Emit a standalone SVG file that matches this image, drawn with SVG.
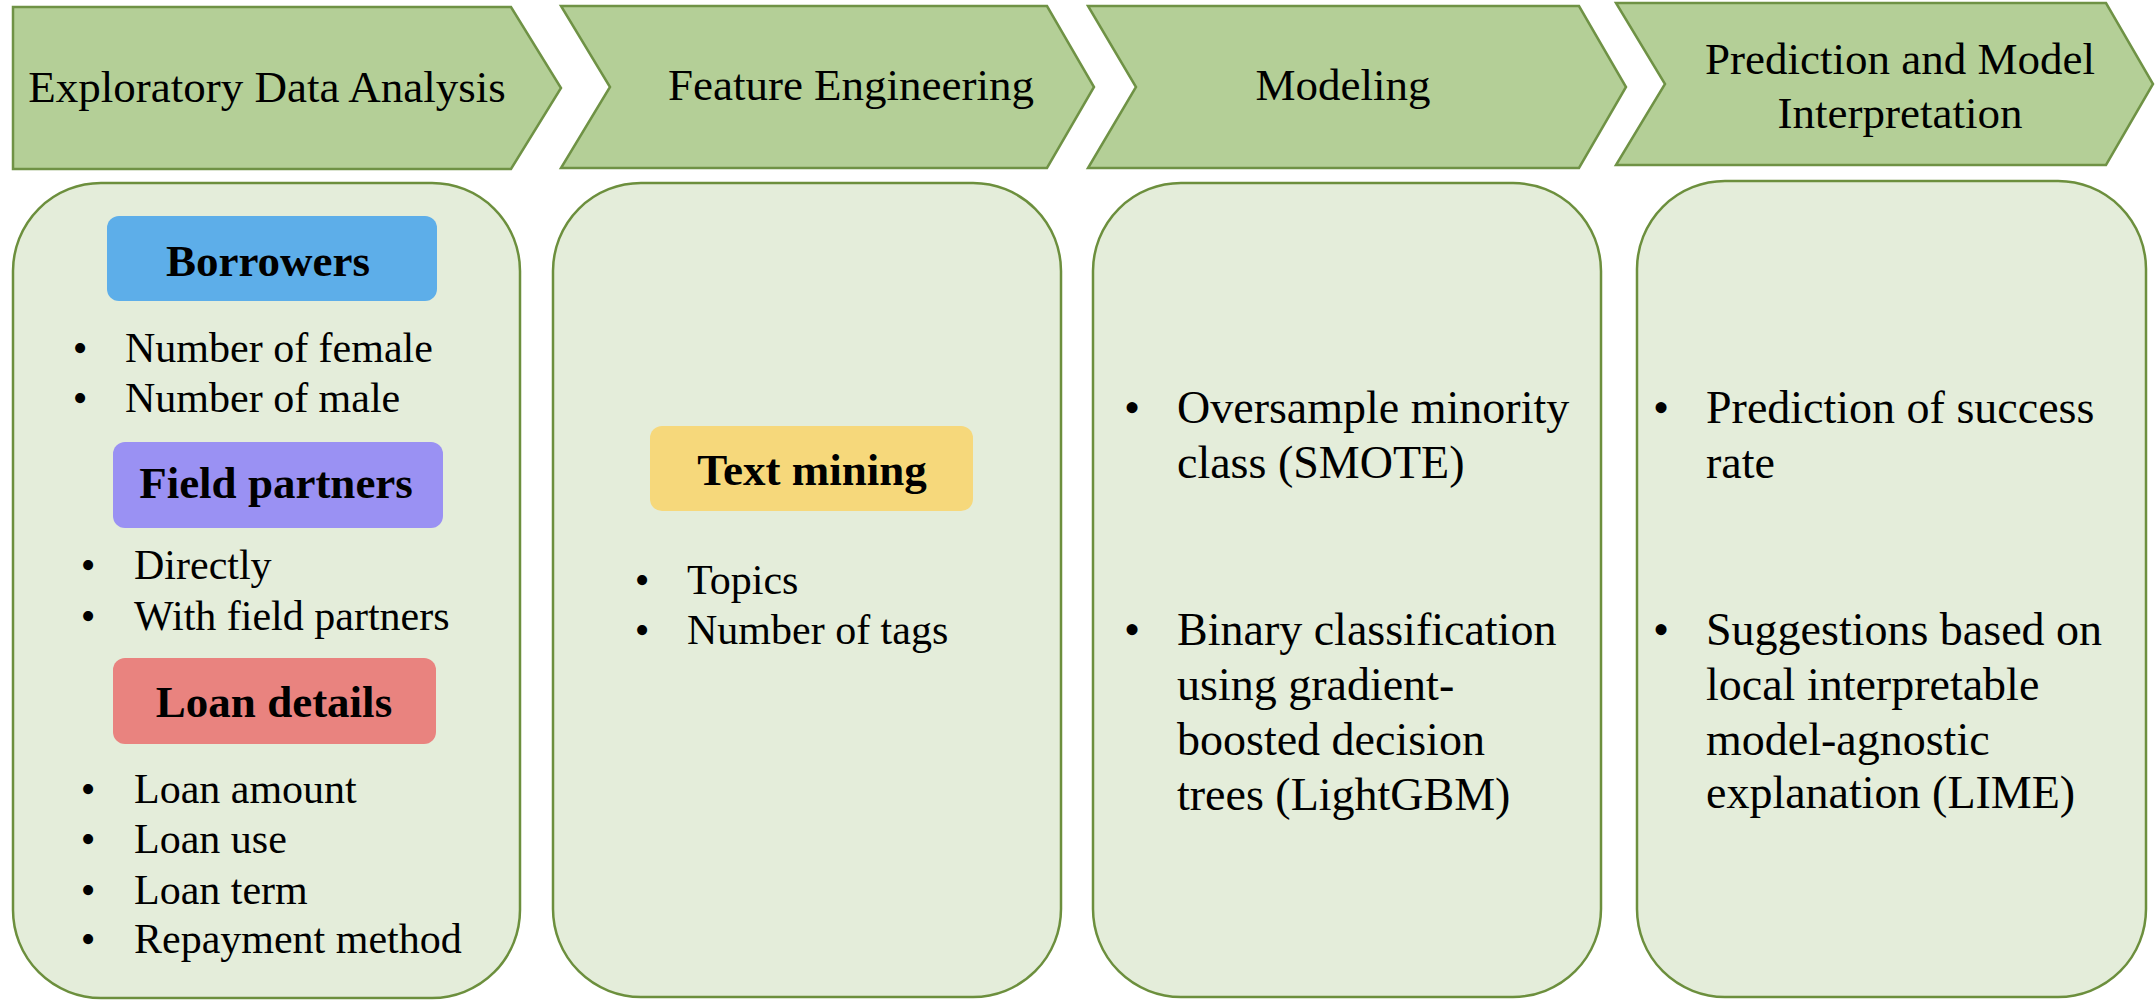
<svg xmlns="http://www.w3.org/2000/svg" width="2156" height="1006" viewBox="0 0 2156 1006">
  <style>
    .chev { fill: #B4CF97; stroke: #6F9245; stroke-width: 2.5; stroke-linejoin: miter; }
    .panel { fill: #E4EDDA; stroke: #6C8F3D; stroke-width: 2.5; }
    .title { font-family: "Liberation Serif", "Times New Roman", serif; font-size: 45px; fill: #000; text-anchor: middle; }
    .label { font-family: "Liberation Serif", "Times New Roman", serif; font-size: 45px; font-weight: bold; fill: #000; text-anchor: middle; }
    .item { font-family: "Liberation Serif", "Times New Roman", serif; font-size: 42px; fill: #000; }
    .item-lg { font-family: "Liberation Serif", "Times New Roman", serif; font-size: 46px; fill: #000; }
    .dot { text-anchor: middle; }
  </style>

  <rect width="2156" height="1006" fill="#FFFFFF"/>

  <!-- Process stages (chevron headers) -->
  <g id="stage-eda">
    <path class="chev" d="M13,7 L511,7 L561,88 L511,169 L13,169 Z"/>
    <text class="title" x="267" y="102">Exploratory Data Analysis</text>
  </g>
  <g id="stage-feature">
    <path class="chev" d="M561,6 L1047,6 L1094,87 L1047,168 L561,168 L610,87 Z"/>
    <text class="title" x="851" y="100">Feature Engineering</text>
  </g>
  <g id="stage-modeling">
    <path class="chev" d="M1088,6 L1579,6 L1626,87 L1579,168 L1088,168 L1136,87 Z"/>
    <text class="title" x="1343" y="100">Modeling</text>
  </g>
  <g id="stage-prediction">
    <path class="chev" d="M1616,3 L2106,3 L2153,84 L2106,165 L1616,165 L1665,84 Z"/>
    <text class="title" x="1900" y="74">Prediction and Model</text>
    <text class="title" x="1900" y="128">Interpretation</text>
  </g>

  <!-- Stage detail panels -->
  <g id="panel-eda">
    <rect class="panel" x="13" y="183" width="507" height="815" rx="88" ry="88"/>
    <rect x="107" y="216" width="330" height="85" rx="12" fill="#5DAEE9"/>
    <text class="label" x="268" y="276">Borrowers</text>
    <text class="item dot" x="80" y="362">•</text>
    <text class="item" x="125" y="362">Number of female</text>
    <text class="item dot" x="80" y="412">•</text>
    <text class="item" x="125" y="412">Number of male</text>

    <rect x="113" y="442" width="330" height="86" rx="12" fill="#9A91F3"/>
    <text class="label" x="276" y="498">Field partners</text>
    <text class="item dot" x="88" y="579">•</text>
    <text class="item" x="134" y="579">Directly</text>
    <text class="item dot" x="88" y="630">•</text>
    <text class="item" x="134" y="630">With field partners</text>

    <rect x="113" y="658" width="323" height="86" rx="12" fill="#E9837F"/>
    <text class="label" x="274" y="717">Loan details</text>
    <text class="item dot" x="88" y="803">•</text>
    <text class="item" x="134" y="803">Loan amount</text>
    <text class="item dot" x="88" y="853">•</text>
    <text class="item" x="134" y="853">Loan use</text>
    <text class="item dot" x="88" y="904">•</text>
    <text class="item" x="134" y="904">Loan term</text>
    <text class="item dot" x="88" y="953">•</text>
    <text class="item" x="134" y="953">Repayment method</text>
  </g>

  <g id="panel-feature">
    <rect class="panel" x="553" y="183" width="508" height="814" rx="88" ry="88"/>
    <rect x="650" y="426" width="323" height="85" rx="12" fill="#F6D87B"/>
    <text class="label" x="812" y="485">Text mining</text>
    <text class="item dot" x="642" y="594">•</text>
    <text class="item" x="687" y="594">Topics</text>
    <text class="item dot" x="642" y="644">•</text>
    <text class="item" x="687" y="644">Number of tags</text>
  </g>

  <g id="panel-modeling">
    <rect class="panel" x="1093" y="183" width="508" height="814" rx="88" ry="88"/>
    <text class="item-lg dot" x="1132" y="423">•</text>
    <text class="item-lg" x="1177" y="423">Oversample minority</text>
    <text class="item-lg" x="1177" y="478">class (SMOTE)</text>
    <text class="item-lg dot" x="1132" y="645">•</text>
    <text class="item-lg" x="1177" y="645">Binary classification</text>
    <text class="item-lg" x="1177" y="700">using gradient-</text>
    <text class="item-lg" x="1177" y="755">boosted decision</text>
    <text class="item-lg" x="1177" y="810">trees (LightGBM)</text>
  </g>

  <g id="panel-prediction">
    <rect class="panel" x="1637" y="181" width="509" height="816" rx="88" ry="88"/>
    <text class="item-lg dot" x="1661" y="423">•</text>
    <text class="item-lg" x="1706" y="423">Prediction of success</text>
    <text class="item-lg" x="1706" y="478">rate</text>
    <text class="item-lg dot" x="1661" y="645">•</text>
    <text class="item-lg" x="1706" y="645">Suggestions based on</text>
    <text class="item-lg" x="1706" y="700">local interpretable</text>
    <text class="item-lg" x="1706" y="755">model-agnostic</text>
    <text class="item-lg" x="1706" y="808">explanation (LIME)</text>
  </g>

  <!-- No explicit connectors: the chevrons themselves express the flow -->
  <g id="connectors"></g>
</svg>
